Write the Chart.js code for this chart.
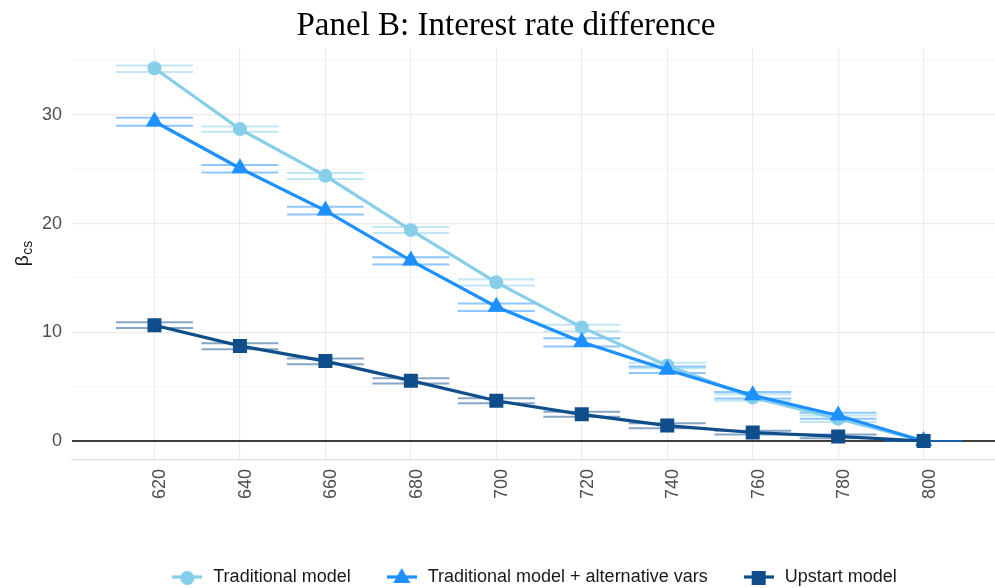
<!DOCTYPE html>
<html>
<head>
<meta charset="utf-8">
<title>Panel B: Interest rate difference</title>
<script src="https://cdn.jsdelivr.net/npm/chart.js@4.4.1/dist/chart.umd.min.js"></script>
<style>
  html, body { margin: 0; padding: 0; background: #fff; overflow: hidden; }
</style>
</head>
<body>
<canvas id="my_chart" width="995" height="588"></canvas>
<script>
// credit score buckets
var scores = [620, 640, 660, 680, 700, 720, 740, 760, 780, 800];

// Traditional model
var trad   = [34.3, 28.7, 24.4, 19.4, 14.6, 10.45, 6.95, 4.0, 2.05, 0];
var tradLo = [33.95, 28.45, 24.1, 19.15, 14.3, 10.1, 6.7, 3.7, 1.75, 0];
var tradHi = [34.55, 28.95, 24.65, 19.7, 14.85, 10.7, 7.2, 4.3, 2.35, 0];

// Traditional model + alternative vars
var alt   = [29.4, 25.1, 21.2, 16.6, 12.35, 9.1, 6.55, 4.2, 2.35, 0];
var altLo = [29.0, 24.7, 20.85, 16.25, 11.95, 8.7, 6.25, 3.9, 2.05, 0];
var altHi = [29.75, 25.4, 21.55, 16.9, 12.65, 9.45, 6.85, 4.5, 2.6, 0];

// Upstart model
var upstart = [10.65, 8.75, 7.35, 5.55, 3.7, 2.45, 1.42, 0.78, 0.42, 0];
var upLo    = [10.4, 8.45, 7.05, 5.3, 3.47, 2.24, 1.17, 0.6, 0.25, 0];
var upHi    = [10.92, 9.0, 7.58, 5.77, 3.93, 2.7, 1.63, 0.95, 0.6, 0];

var xTicks = [620, 640, 660, 680, 700, 720, 740, 760, 780, 800];
var yMajor = [0, 10, 20, 30];
var yMinor = [5, 15, 25, 35];

(function () {
    "use strict";

    var FONT = '"Liberation Sans", Arial, Helvetica, sans-serif';
    var CAP = 9; // half width of the CI caps, in score units

    var series = [
        { name: "Traditional model", color: "#87CEEB", bar: "rgba(135,206,235,0.5)", style: "circle", radius: 7,
          y: trad, lo: tradLo, hi: tradHi, order: 3 },
        { name: "Traditional model + alternative vars", color: "#1E90FF", bar: "rgba(30,144,255,0.5)", style: "triangle", radius: 10,
          y: alt, lo: altLo, hi: altHi, order: 2 },
        { name: "Upstart model", color: "#104E8B", bar: "rgba(16,78,139,0.5)", style: "rect", radius: 9.9,
          y: upstart, lo: upLo, hi: upHi, order: 1 }
    ];

    function points(vals) {
        return scores.map(function (s, i) { return { x: s, y: vals[i] }; });
    }

    // horizontal caps, broken apart with null points
    function caps(vals) {
        var out = [];
        scores.forEach(function (s, i) {
            out.push({ x: s - CAP, y: vals[i] }, { x: s + CAP, y: vals[i] }, { x: s, y: null });
        });
        return out;
    }

    function shape(g, style, r, x, y) {
        g.beginPath();
        if (style === "circle") {
            g.arc(x, y, r, 0, Math.PI * 2);
        } else if (style === "triangle") {
            var a = 0;
            g.moveTo(x + Math.sin(a) * r, y - Math.cos(a) * r);
            a += Math.PI * 2 / 3;
            g.lineTo(x + Math.sin(a) * r, y - Math.cos(a) * r);
            a += Math.PI * 2 / 3;
            g.lineTo(x + Math.sin(a) * r, y - Math.cos(a) * r);
            g.closePath();
        } else {
            var h = r * Math.SQRT1_2;
            g.rect(x - h, y - h, 2 * h, 2 * h);
        }
        g.fill();
    }

    // legend key: short line with the marker on top
    function legendKey(s) {
        var c = document.createElement("canvas");
        c.width = 30;
        c.height = 22;
        var g = c.getContext("2d");
        g.strokeStyle = s.color;
        g.lineWidth = 3.2;
        g.beginPath();
        g.moveTo(0, 11);
        g.lineTo(30, 11);
        g.stroke();
        g.fillStyle = s.color;
        shape(g, s.style, s.radius, 15, 12);
        return c;
    }

    function noPadding(scale) {
        scale.paddingLeft = 0;
        scale.paddingRight = 0;
        scale.paddingTop = 0;
        scale.paddingBottom = 0;
    }

    var datasets = [];
    series.forEach(function (s) {
        datasets.push({
            label: s.name,
            data: points(s.y),
            borderColor: s.color,
            backgroundColor: s.color,
            borderWidth: 3.2,
            pointStyle: s.style,
            pointRadius: s.radius,
            pointBackgroundColor: s.color,
            pointBorderWidth: 0,
            tension: 0,
            order: s.order
        });
        [s.lo, s.hi].forEach(function (v) {
            datasets.push({
                label: "",
                data: caps(v),
                borderColor: s.bar,
                borderWidth: 2,
                pointRadius: 0,
                spanGaps: false,
                order: 10 + s.order
            });
        });
    });

    var zeroLine = {
        id: "zeroLine",
        beforeDatasetsDraw: function (chart) {
            var ctx = chart.ctx, area = chart.chartArea;
            var y = chart.scales.y.getPixelForValue(0);
            ctx.save();
            ctx.strokeStyle = "#000";
            ctx.lineWidth = 1.6;
            ctx.beginPath();
            ctx.moveTo(area.left, y);
            ctx.lineTo(area.right, y);
            ctx.stroke();
            ctx.restore();
        }
    };

    // y title: beta with a "cs" subscript, rotated
    var yTitle = {
        id: "yTitle",
        afterDraw: function (chart) {
            var ctx = chart.ctx, area = chart.chartArea;
            var cy = (area.top + area.bottom) / 2;
            ctx.save();
            ctx.translate(28, cy);
            ctx.rotate(-Math.PI / 2);
            ctx.fillStyle = "#1a1a1a";
            ctx.textBaseline = "alphabetic";
            ctx.font = "19px " + FONT;
            var wb = ctx.measureText("\u03b2").width;
            ctx.font = "14px " + FONT;
            var ws = ctx.measureText("cs").width;
            var x0 = -(wb + ws) / 2;
            ctx.font = "19px " + FONT;
            ctx.fillText("\u03b2", x0, 0);
            ctx.font = "14px " + FONT;
            ctx.fillText("cs", x0 + wb + 0.5, 4);
            ctx.restore();
        }
    };

    var ctx = document.getElementById("my_chart").getContext("2d");

    var myChart = new Chart(ctx, {
        type: "line",
        data: { datasets: datasets },
        plugins: [zeroLine, yTitle],
        options: {
            responsive: false,
            animation: false,
            devicePixelRatio: 1,
            events: [],
            layout: { autoPadding: false, padding: { left: 17, right: 0, top: 0, bottom: -8 } },
            plugins: {
                tooltip: { enabled: false },
                title: {
                    display: true,
                    text: "Panel B: Interest rate difference",
                    color: "#000",
                    font: { family: '"Liberation Serif", "DejaVu Serif", serif', size: 33, weight: "normal" },
                    padding: { top: 7, bottom: 1 }
                },
                legend: {
                    display: true,
                    position: "bottom",
                    fullSize: false,
                    labels: {
                        usePointStyle: true,
                        pointStyleWidth: 34,
                        padding: 34,
                        color: "#1a1a1a",
                        font: { family: FONT, size: 18 },
                        generateLabels: function () {
                            return series.map(function (s) {
                                return {
                                    text: s.name,
                                    pointStyle: legendKey(s),
                                    fillStyle: s.color,
                                    strokeStyle: s.color,
                                    lineWidth: 0,
                                    hidden: false,
                                    fontColor: "#1a1a1a"
                                };
                            });
                        }
                    }
                }
            },
            scales: {
                x: {
                    type: "linear",
                    min: 600.7,
                    max: 816.7,
                    afterBuildTicks: function (scale) {
                        scale.ticks = xTicks.map(function (v) { return { value: v }; });
                    },
                    afterFit: function (scale) {
                        scale.height = 74;
                        noPadding(scale);
                    },
                    ticks: {
                        minRotation: 90,
                        maxRotation: 90,
                        padding: 9,
                        labelOffset: 6,
                        color: "#4D4D4D",
                        font: { family: FONT, size: 18 },
                        callback: function (v) { return String(v); }
                    },
                    grid: { color: "#EBEBEB", lineWidth: 1.2, drawTicks: false },
                    border: { display: true, color: "#E0E0E0", width: 1.2 }
                },
                y: {
                    type: "linear",
                    min: -1.75,
                    max: 36.2,
                    afterBuildTicks: function (scale) {
                        scale.ticks = yMajor.concat(yMinor).sort(function (a, b) { return a - b; })
                            .map(function (v) { return { value: v }; });
                    },
                    afterFit: function (scale) {
                        scale.width = 55;
                        noPadding(scale);
                    },
                    ticks: {
                        padding: 10,
                        color: "#4D4D4D",
                        font: { family: FONT, size: 18 },
                        callback: function (v) { return yMajor.indexOf(v) >= 0 ? String(v) : ""; }
                    },
                    grid: {
                        drawTicks: false,
                        color: function (c) { return yMajor.indexOf(c.tick.value) >= 0 ? "#EBEBEB" : "#F2F2F2"; },
                        lineWidth: function (c) { return yMajor.indexOf(c.tick.value) >= 0 ? 1.2 : 0.8; }
                    },
                    border: { display: false }
                }
            }
        }
    });
})();
</script>
</body>
</html>
